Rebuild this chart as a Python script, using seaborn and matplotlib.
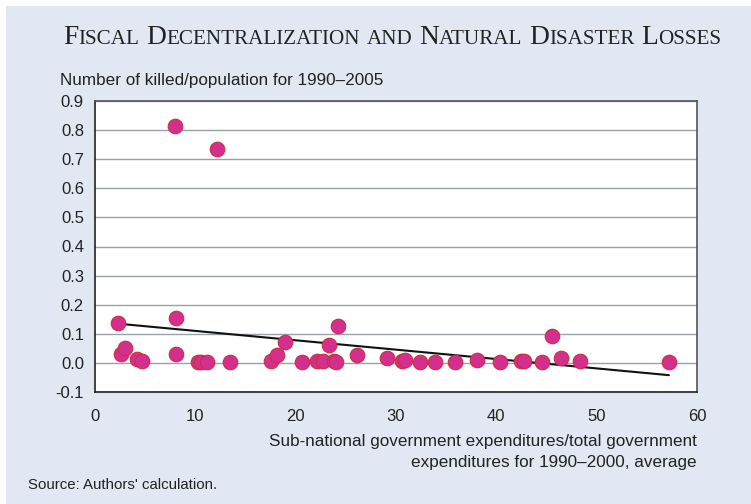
import matplotlib
matplotlib.use("Agg")
import matplotlib.pyplot as plt
import seaborn as sns
import pandas as pd
import numpy as np
from matplotlib.patches import Rectangle

# Data
decentralization = [2.3, 2.6, 3.0, 4.2, 4.7, 8.0, 8.1, 8.1, 10.3, 10.6, 11.2, 12.2, 13.5,
                    17.5, 18.1, 18.9, 20.6, 22.1, 22.7, 23.3, 23.8, 24.0, 24.2, 26.1,
                    29.1, 30.6, 30.9, 32.4, 33.9, 35.9, 38.1, 40.4, 42.5, 42.8, 44.6,
                    45.5, 46.4, 48.3, 57.2]
killed = [0.137, 0.031, 0.050, 0.014, 0.008, 0.815, 0.155, 0.031, 0.003, 0.003, 0.003,
          0.735, 0.003, 0.007, 0.028, 0.072, 0.003, 0.006, 0.005, 0.062, 0.005, 0.003,
          0.127, 0.027, 0.017, 0.006, 0.010, 0.002, 0.002, 0.002, 0.010, 0.003, 0.006,
          0.006, 0.003, 0.093, 0.017, 0.007, 0.003]
x_ticks = [0, 10, 20, 30, 40, 50, 60]
y_ticks = [-0.1, 0.0, 0.1, 0.2, 0.3, 0.4, 0.5, 0.6, 0.7, 0.8, 0.9]

df = pd.DataFrame({"x": decentralization, "y": killed})

sns.set_theme(style="white")
plt.rcParams['font.family'] = ['Liberation Sans', 'DejaVu Sans']

BG = "#E1E8F4"
fig = plt.figure(figsize=(7.51, 5.04), dpi=100, facecolor="white")
fig.patches.append(Rectangle((6 / 751, 0), 1, 1 - 6 / 504, transform=fig.transFigure,
                             facecolor=BG, edgecolor="none", zorder=-10))

ax = fig.add_axes([95 / 751, 1 - 392 / 504, (697 - 95) / 751, (392 - 101) / 504])
ax.set_facecolor("white")

for yv in y_ticks:
    ax.axhline(yv, color="#9aa0a8", lw=1.0, zorder=0)

sns.regplot(data=df, x="x", y="y", ax=ax, scatter=False, ci=None,
            line_kws=dict(color="#111111", lw=1.5, zorder=2))
sns.scatterplot(data=df, x="x", y="y", ax=ax, s=110, color="#D42F8F",
                edgecolor="#C8303A", linewidth=0.8, zorder=3)

ax.set_xlim(0, 60)
ax.set_ylim(-0.1, 0.9)
ax.set_xticks(x_ticks)
ax.set_yticks(y_ticks)
ax.set_xticklabels([str(t) for t in x_ticks])
ax.set_yticklabels(["%.1f" % t for t in y_ticks])
ax.tick_params(axis="both", which="both", direction="out", length=4, width=1,
               color="#333333", labelsize=12, labelcolor="#222222", pad=4)
ax.tick_params(axis="x", pad=8)
ax.set_xlabel("")
ax.set_ylabel("")
for sp in ["left", "bottom"]:
    ax.spines[sp].set_color("#222222")
    ax.spines[sp].set_linewidth(1.2)
for sp in ["top", "right"]:
    ax.spines[sp].set_color("#555555")
    ax.spines[sp].set_linewidth(1.2)

fig.text(60 / 751, 1 - 80 / 504, "Number of killed/population for 1990\u20132005",
         fontsize=12.3, color="#222222", ha="left", va="center")
fig.text(697 / 751, 1 - 452 / 504,
         "Sub-national government expenditures/total government\nexpenditures for 1990\u20132000, average",
         fontsize=12.3, color="#222222", ha="right", va="center", linespacing=1.42,
         multialignment="right")
fig.text(28 / 751, 1 - 485 / 504, "Source: Authors' calculation.", fontsize=10.8,
         color="#222222", ha="left", va="center")

# Small-caps title
words = ["Fiscal", "Decentralization", "and", "Natural", "Disaster", "Losses"]
big, small = 19.7, 15.2
serif = ['Liberation Serif', 'DejaVu Serif']
pieces = []
for i, w in enumerate(words):
    if w == "and":
        pieces.append(("AND", small))
    else:
        pieces.append((w[0].upper(), big))
        pieces.append((w[1:].upper(), small))
    if i < len(words) - 1:
        pieces.append((" ", big))

fig.canvas.draw()
renderer = fig.canvas.get_renderer()
widths = []
tmp_objs = []
for txt, sz in pieces:
    t = fig.text(0, 0, txt, fontsize=sz, family=serif)
    bb = t.get_window_extent(renderer=renderer)
    widths.append(bb.width if txt != " " else sz * 0.25 * fig.dpi / 72)
    tmp_objs.append(t)
for t in tmp_objs:
    t.remove()
total = sum(widths)
x0 = 392 - total / 2
ybase = 1 - 44 / 504
cur = x0
for (txt, sz), w in zip(pieces, widths):
    if txt != " ":
        fig.text(cur / 751, ybase, txt, fontsize=sz, family=serif, color="#222222",
                 ha="left", va="baseline")
    cur += w

fig.savefig("out.png", dpi=100, facecolor=fig.get_facecolor())
